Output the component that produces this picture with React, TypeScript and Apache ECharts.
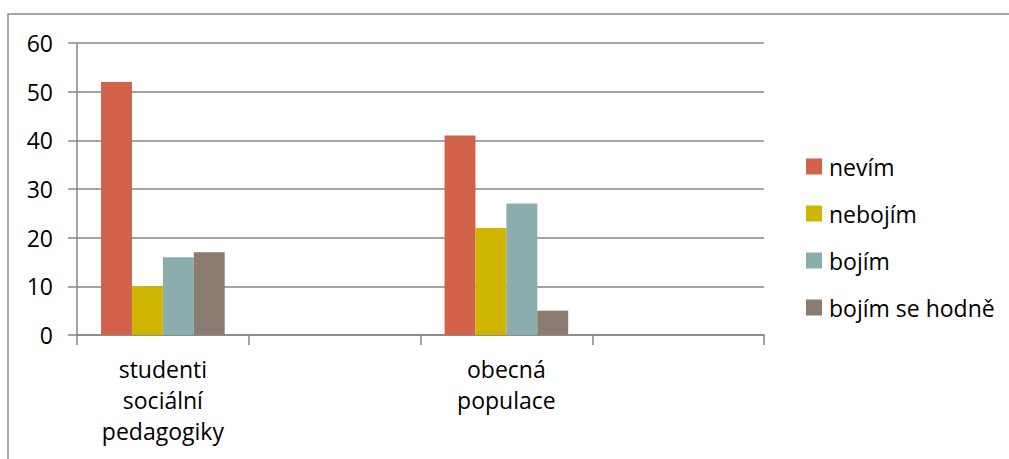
import React, { useEffect, useRef } from "react";
import * as echarts from "echarts";

const categories = ["studenti\nsociální\npedagogiky", "", "obecná\npopulace", ""];
const seriesNames = ["nevím", "nebojím", "bojím", "bojím se hodně"];
const nevim = [52, null, 41, null];
const neboj = [10, null, 22, null];
const bojim = [16, null, 27, null];
const bojimHodne = [17, null, 5, null];
const colors = ["#D2634A", "#CFB400", "#8CADAE", "#8B7B70"];
const yTicks = { min: 0, max: 60, interval: 10 };

const FONT = "'Open Sans', sans-serif";
const FS = 23;

export default function App() {
  const ref = useRef<HTMLDivElement>(null);

  useEffect(() => {
    if (!ref.current) return;
    const chart = echarts.init(ref.current, null, { renderer: "svg" });
    const values = [nevim, neboj, bojim, bojimHodne];
    chart.setOption({
      animation: false,
      backgroundColor: "#ffffff",
      textStyle: { fontFamily: FONT },
      graphic: [
        {
          type: "rect",
          shape: { x: 8, y: 14, width: 1010, height: 460 },
          style: { fill: "none", stroke: "#8a8a8a", lineWidth: 1.5 },
          silent: true,
          z: -1,
        },
      ],
      grid: { left: 77, top: 43, right: 245, bottom: 124 },
      legend: {
        orient: "vertical",
        left: 801,
        top: 150,
        itemWidth: 16,
        itemHeight: 16,
        itemGap: 24,
        icon: "rect",
        data: seriesNames,
        textStyle: { fontFamily: FONT, fontSize: FS, color: "#000", padding: [0, 0, 0, 2] },
      },
      xAxis: {
        type: "category",
        data: categories,
        axisLine: { lineStyle: { color: "#868686", width: 1.5 } },
        axisTick: { show: true, alignWithLabel: false, length: 10, lineStyle: { color: "#868686", width: 1.5 } },
        axisLabel: {
          fontFamily: FONT,
          fontSize: FS,
          color: "#000",
          lineHeight: 31,
          margin: 18,
          interval: 0,
        },
      },
      yAxis: {
        type: "value",
        min: yTicks.min,
        max: yTicks.max,
        interval: yTicks.interval,
        axisLine: { show: true, lineStyle: { color: "#868686", width: 1.5 } },
        axisTick: { show: true, length: 9, lineStyle: { color: "#868686", width: 1.5 } },
        splitLine: { lineStyle: { color: "#868686", width: 1.5 } },
        axisLabel: { fontFamily: FONT, fontSize: FS, color: "#000", margin: 24 },
      },
      series: seriesNames.map((name, i) => ({
        name,
        type: "bar",
        data: values[i],
        barGap: "0%",
        barCategoryGap: "28%",
        itemStyle: { color: colors[i] },
      })),
    });
    return () => chart.dispose();
  }, []);

  return (
    <div
      ref={ref}
      style={{ position: "fixed", left: 0, top: 0, width: 1009, height: 459 }}
    />
  );
}
